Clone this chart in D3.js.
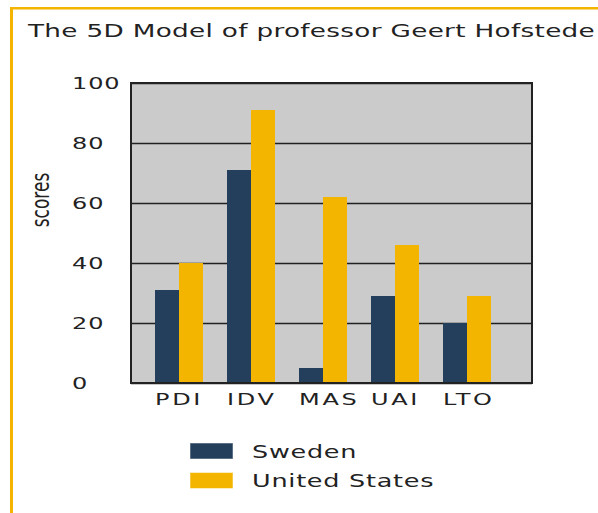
<!DOCTYPE html>
<html>
<head>
<meta charset="utf-8">
<script src="https://cdn.jsdelivr.net/npm/d3@7"></script>
<style>
  body { margin: 0; background: #fff; }
  text { font-family: "DejaVu Sans", sans-serif; fill: #222; }
</style>
</head>
<body>
<div id="app"></div>
<script>
// data
const dimensions = ["PDI", "IDV", "MAS", "UAI", "LTO"];
const countries = ["Sweden", "United States"];
const swedenScores = [31, 71, 5, 29, 20];
const usScores = [40, 91, 62, 46, 29];
const yTicks = [0, 20, 40, 60, 80, 100];
const colors = ["#243f5c", "#f3b500"];

const width = 598, height = 513;
// the original picture is stretched sideways, so text gets the same stretch
const stretch = 1.5;
const plot = { left: 131, right: 532, top: 83, bottom: 383 };

const rows = dimensions.map((d, i) => ({
  dim: d,
  values: [swedenScores[i], usScores[i]]
}));

const svg = d3.select("#app").append("svg")
  .attr("width", width)
  .attr("height", height);

svg.append("rect").attr("width", width).attr("height", height).attr("fill", "#fff");

// orange frame on top and left
svg.append("rect").attr("x", 10).attr("y", 7).attr("width", width - 10).attr("height", 2.5).attr("fill", "#f5b400");
svg.append("rect").attr("x", 10).attr("y", 7).attr("width", 3).attr("height", height - 7).attr("fill", "#f5b400");

// title, reaching right up to the edge like the original
svg.append("text")
  .attr("transform", `translate(28,37) scale(${stretch},1)`)
  .attr("font-size", 17.5)
  .attr("letter-spacing", 0.22)
  .text("The 5D Model of professor Geert Hofstede");

// scales
const y = d3.scaleLinear().domain([0, 100]).range([plot.bottom, plot.top]);
const x0 = d3.scaleBand().domain(dimensions).range([plot.left, 515]).padding(1 / 3);
const x1 = d3.scaleBand().domain(countries).range([0, x0.bandwidth()]);

// plot background
svg.append("rect")
  .attr("x", plot.left).attr("y", plot.top)
  .attr("width", plot.right - plot.left).attr("height", plot.bottom - plot.top)
  .attr("fill", "#cbcbcb");

// grid lines behind the bars
const grid = svg.append("g")
  .attr("transform", `translate(${plot.left},0)`)
  .call(d3.axisLeft(y).tickValues(yTicks).tickSize(-(plot.right - plot.left)).tickFormat(""));
grid.select(".domain").remove();
grid.selectAll("line").attr("stroke", "#222").attr("stroke-width", 1.5);

// bars
const groups = svg.append("g").selectAll("g")
  .data(rows)
  .join("g")
  .attr("transform", d => `translate(${x0(d.dim)},0)`);

groups.selectAll("rect")
  .data(d => d.values.map((v, i) => ({ country: countries[i], value: v, i })))
  .join("rect")
  .attr("x", d => x1(d.country))
  .attr("y", d => y(d.value))
  .attr("width", x1.bandwidth())
  .attr("height", d => y(0) - y(d.value))
  .attr("fill", d => colors[d.i]);

// plot frame
svg.append("rect")
  .attr("x", plot.left).attr("y", plot.top)
  .attr("width", plot.right - plot.left).attr("height", plot.bottom - plot.top)
  .attr("fill", "none")
  .attr("stroke", "#222")
  .attr("stroke-width", 2);

// y tick labels, left aligned
const yAxis = svg.append("g")
  .attr("transform", "translate(72,0)")
  .call(d3.axisLeft(y).tickValues(yTicks).tickSize(0));
yAxis.select(".domain").remove();
yAxis.selectAll("text")
  .attr("x", 0)
  .attr("dy", "0.36em")
  .attr("text-anchor", "start")
  .attr("font-size", 16)
  .attr("letter-spacing", 0.6)
  .attr("font-family", "DejaVu Sans, sans-serif")
  .attr("fill", "#222")
  .attr("transform", `scale(${stretch},1)`);

// y axis title
svg.append("text")
  .attr("transform", `translate(49,200) scale(${stretch},1) rotate(-90)`)
  .attr("text-anchor", "middle")
  .attr("font-size", 17)
  .text("scores");

// x labels, left aligned to each group
const xAxis = svg.append("g")
  .attr("transform", `translate(0,${plot.bottom})`)
  .call(d3.axisBottom(x0).tickSize(0));
xAxis.select(".domain").remove();
xAxis.selectAll(".tick text")
  .attr("x", 0)
  .attr("y", 22)
  .attr("dy", 0)
  .attr("text-anchor", "start")
  .attr("font-size", 16)
  .attr("letter-spacing", 1.8)
  .attr("font-family", "DejaVu Sans, sans-serif")
  .attr("fill", "#222")
  .attr("transform", `translate(${-x0.bandwidth() / 2},0) scale(${stretch},1)`);

// legend
const legend = svg.append("g").selectAll("g")
  .data(countries)
  .join("g")
  .attr("transform", (d, i) => `translate(190,${443 + i * 29.5})`);
legend.append("rect")
  .attr("width", 43).attr("height", 16)
  .attr("fill", (d, i) => colors[i])
  .attr("stroke", "rgba(255,255,255,0.5)");
legend.append("text")
  .attr("transform", `translate(62,14.5) scale(${stretch},1)`)
  .attr("font-size", 17)
  .attr("letter-spacing", 0.5)
  .text(d => d);
</script>
</body>
</html>
